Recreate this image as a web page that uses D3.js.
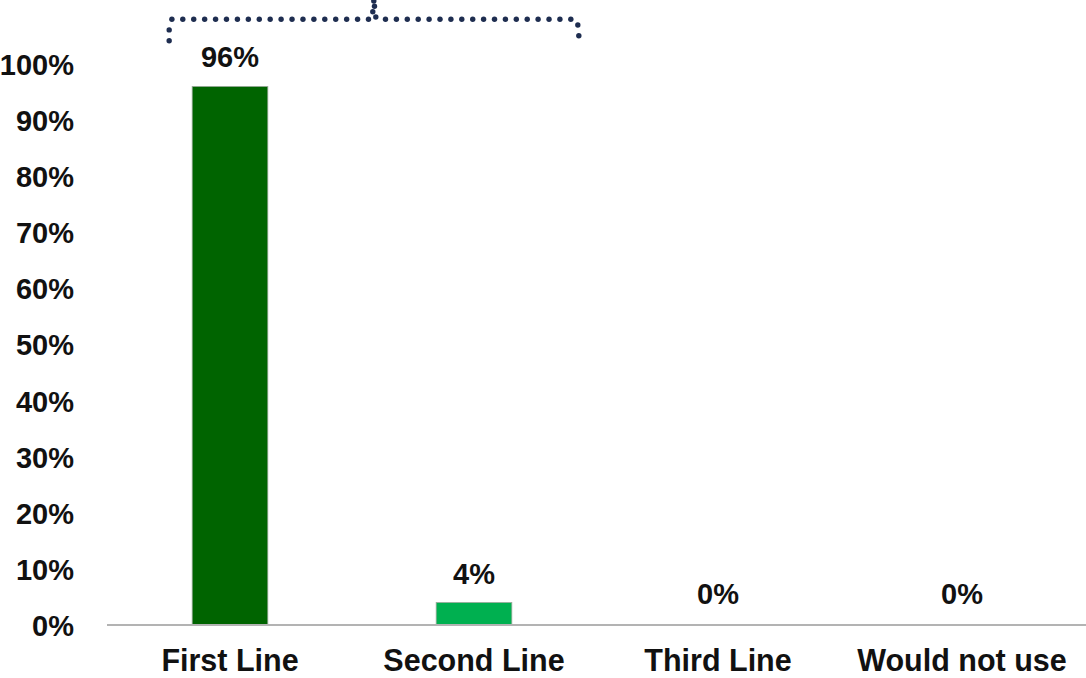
<!DOCTYPE html>
<html>
<head>
<meta charset="utf-8">
<script src="https://cdn.jsdelivr.net/npm/d3@7"></script>
<style>
  html, body { margin: 0; padding: 0; background: #fff; }
  svg { display: block; }
  text { font-family: "Liberation Sans", Arial, sans-serif; font-weight: bold; fill: #111; }
</style>
</head>
<body>
<svg id="chart" width="1086" height="678"></svg>
<script>
// Preferred treatment line
const categories = ["First Line", "Second Line", "Third Line", "Would not use"];
const values = [96, 4, 0, 0];
const barColors = ["#006400", "#00B050", "#00B050", "#00B050"];
const tickValues = [0, 10, 20, 30, 40, 50, 60, 70, 80, 90, 100];

const svg = d3.select("#chart");

const x = d3.scaleBand()
  .domain(categories)
  .range([108, 1084])
  .paddingInner(0.69)
  .paddingOuter(0.345);

const y = d3.scaleLinear()
  .domain([0, 100])
  .range([625, 64]);

// y-axis labels (no line, no ticks)
const yAxis = d3.axisLeft(y)
  .tickValues(tickValues)
  .tickFormat(d => d + "%")
  .tickSize(0)
  .tickPadding(0);

const gy = svg.append("g")
  .attr("transform", "translate(74,0)")
  .call(yAxis);
gy.select(".domain").remove();
gy.selectAll("text")
  .attr("font-size", 29)
  .attr("font-family", "Liberation Sans, Arial, sans-serif")
  .attr("font-weight", "bold")
  .attr("fill", "#111")
  .attr("dy", "0.36em");

// bars
svg.append("g").selectAll("rect")
  .data(categories)
  .join("rect")
  .attr("x", d => x(d))
  .attr("width", x.bandwidth())
  .attr("y", (d, i) => y(values[i]))
  .attr("height", (d, i) => y(0) - y(values[i]))
  .attr("fill", (d, i) => barColors[i])
  .attr("stroke", (d, i) => values[i] > 0 ? "#9aa99a" : "none")
  .attr("stroke-width", 0.8);

// x-axis baseline and category labels
const xAxis = d3.axisBottom(x).tickSize(0).tickPadding(0);
const gx = svg.append("g")
  .attr("transform", `translate(0,${y(0)})`)
  .call(xAxis);
gx.select(".domain")
  .attr("stroke", "#b3b3b3")
  .attr("stroke-width", 2)
  .attr("d", "M107,0H1086");
gx.selectAll("text")
  .attr("font-size", 30.5)
  .attr("font-family", "Liberation Sans, Arial, sans-serif")
  .attr("font-weight", "bold")
  .attr("fill", "#111")
  .attr("dy", 0)
  .attr("y", 46);

// value labels
svg.append("g").selectAll("text")
  .data(categories)
  .join("text")
  .attr("x", d => x(d) + x.bandwidth() / 2)
  .attr("y", (d, i) => y(values[i]) - (values[i] > 0 ? 19 : 21))
  .attr("text-anchor", "middle")
  .attr("font-size", 29)
  .text((d, i) => values[i] + "%");

// dotted bracket grouping the first two bars
const bl = x("First Line") - 23;
const br = x("Second Line") + x.bandwidth() + 67;
const bm = (bl + br) / 2 + 1.8;
const bracketY = 19.3;
const arms = [
  [[bl, 40.7], [bl, 29.9], [bl + 2.7, bracketY], [bm - 7.3, bracketY]],
  [[bm + 9.7, bracketY], [br - 8, bracketY], [br - 1, 25], [br, 35.7]],
  [[bm, 17], [bm - 3, 11.7], [bm - 1.3, 6.3], [bm - 2, 1]]
];
const step = 10.9;
const dots = [];
arms.forEach(pts => {
  for (let k = 0; k < pts.length - 1; k++) {
    const [x0, y0] = pts[k], [x1, y1] = pts[k + 1];
    const n = Math.max(1, Math.round(Math.hypot(x1 - x0, y1 - y0) / step));
    for (let j = 0; j < n; j++) {
      dots.push([x0 + (x1 - x0) * j / n, y0 + (y1 - y0) * j / n]);
    }
  }
  dots.push(pts[pts.length - 1]);
});

svg.append("g").selectAll("circle")
  .data(dots)
  .join("circle")
  .attr("cx", d => d[0])
  .attr("cy", d => d[1])
  .attr("r", 2.7)
  .attr("fill", "#1e2d50");
</script>
</body>
</html>
